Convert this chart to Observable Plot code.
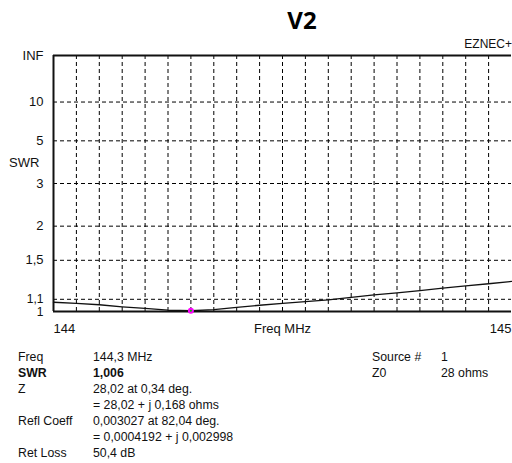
<!DOCTYPE html>
<html><head><meta charset="utf-8">
<script src="https://cdn.jsdelivr.net/npm/d3@7"></script>
<script src="https://cdn.jsdelivr.net/npm/@observablehq/plot@0.6"></script>
<style>
body{margin:0;background:#fff;width:512px;height:463px;overflow:hidden;position:relative;font-family:"Liberation Sans",Arial,sans-serif;color:#111}
.abs{position:absolute;white-space:nowrap}
#chart{position:absolute;left:0;top:0}
#title{top:8px;left:302px;transform:translateX(-50%);font-family:"Open Sans",sans-serif;font-weight:700;font-size:24px;line-height:24px;color:#000}
#brand{top:38px;right:0;font-size:12px;line-height:12px}
#ylab{top:156px;left:9px;font-size:13px;line-height:13px}
.row{font-size:12.3px;line-height:16px;height:16px}
</style>
</head><body>
<div id="chart"></div>
<div class="abs" id="title"></div>
<div class="abs" id="brand"></div>
<div class="abs" id="ylab"></div>
<div id="readout"></div>
<script>
// ---- data ----
const titleText = "V2";
const brandText = "EZNEC+";
const yAxisLabel = "SWR";
const freqs = [144, 144.05, 144.10, 144.15, 144.20, 144.25, 144.30, 144.35, 144.40, 144.45, 144.50, 144.55, 144.60, 144.65, 144.70, 144.75, 144.80, 144.85, 144.90, 144.95, 145.00];
const swrValues = [1.075, 1.065, 1.054, 1.037, 1.024, 1.010, 1.006, 1.015, 1.033, 1.050, 1.066, 1.081, 1.096, 1.117, 1.138, 1.157, 1.178, 1.200, 1.222, 1.243, 1.266];
const markerFreq = 144.3;
const markerSwr = 1.006;
const yTicks = [1.5, 2, 3, 5, 10, Infinity];
const yTickLabels = ["1,5", "2", "3", "5", "10", "INF"];
const yTicksLow = [1.1], yTicksLowLabels = ["1,1"];
const yTicksBase = [1], yTicksBaseLabels = ["1"];
const yGrid = [1.1, 1.5, 2, 3, 5, 10];
const xGrid = [144.05, 144.10, 144.15, 144.20, 144.25, 144.30, 144.35, 144.40, 144.45, 144.50, 144.55, 144.60, 144.65, 144.70, 144.75, 144.80, 144.85, 144.90, 144.95];
const xTickStart = [144], xTickStartLabel = ["144"];
const xTickEnd = [145], xTickEndLabel = ["145"];
const xAxisLabel = "Freq MHz";
const readoutLeftLabels = ["Freq", "SWR", "Z", "", "Refl Coeff", "", "Ret Loss"];
const readoutLeftValues = ["144,3 MHz", "1,006", "28,02 at 0,34 deg.", "= 28,02 + j 0,168 ohms", "0,003027 at 82,04 deg.", "= 0,0004192 + j 0,002998", "50,4 dB"];
const readoutRightLabels = ["Source #", "Z0"];
const readoutRightValues = ["1", "28 ohms"];

// ---- chart ----
const data = freqs.map((f, i) => ({f, s: swrValues[i]}));
const rho = s => s === Infinity ? 1 : (s - 1) / (s + 1);
const blk = "#000";
const chart = Plot.plot({
  width: 512, height: 340,
  marginLeft: 53, marginRight: 1, marginTop: 55, marginBottom: 29,
  style: {fontFamily: "Liberation Sans, Arial, sans-serif", fontSize: "13px", color: "#111", background: "transparent"},
  x: {domain: [144, 145], label: null},
  y: {domain: [0, 1], transform: rho, label: null},
  marks: [
    Plot.gridX(xGrid, {stroke: blk, strokeOpacity: 1, strokeWidth: 1, strokeDasharray: "4,3"}),
    Plot.gridY(yGrid, {stroke: blk, strokeOpacity: 1, strokeWidth: 1, strokeDasharray: "4,3"}),
    Plot.ruleY([1, Infinity], {stroke: "#111", strokeWidth: 2}),
    Plot.ruleX([144], {stroke: "#111", strokeWidth: 2}),
    Plot.line(data, {x: "f", y: "s", stroke: "#111", strokeWidth: 1.3}),
    Plot.dot([{f: markerFreq, s: markerSwr}], {x: "f", y: "s", r: 3, fill: "#ff00ff", stroke: "none"}),
    Plot.dot([{f: markerFreq, s: markerSwr}], {x: "f", y: "s", r: 1.1, fill: "#00c000", stroke: "none"}),
    Plot.axisY(yTicks, {tickSize: 0, tickPadding: 10, tickFormat: d => yTickLabels[yTicks.indexOf(d)], label: null}),
    Plot.axisY(yTicksLow, {tickSize: 0, tickPadding: 10, fontSize: 12, tickFormat: (d, i) => yTicksLowLabels[i], label: null}),
    Plot.axisY(yTicksBase, {tickSize: 0, tickPadding: 10, fontSize: 12, dy: 1, tickFormat: (d, i) => yTicksBaseLabels[i], label: null}),
    Plot.axisX(xTickStart, {tickSize: 0, tickPadding: 12, textAnchor: "start", tickFormat: (d, i) => xTickStartLabel[i], label: null}),
    Plot.axisX(xTickEnd, {tickSize: 0, tickPadding: 12, textAnchor: "end", tickFormat: (d, i) => xTickEndLabel[i], label: null}),
    Plot.axisX([(144 + 145) / 2], {tickSize: 0, tickPadding: 12, tickFormat: () => xAxisLabel, label: null})
  ]
});
document.getElementById("chart").append(chart);
document.getElementById("title").textContent = titleText;
document.getElementById("brand").textContent = brandText;
document.getElementById("ylab").textContent = yAxisLabel;

const ro = document.getElementById("readout");
function addText(txt, x, y, bold) {
  const d = document.createElement("div");
  d.className = "abs row";
  d.style.left = x + "px"; d.style.top = y + "px";
  if (bold) d.style.fontWeight = "700";
  d.textContent = txt;
  ro.append(d);
}
readoutLeftLabels.forEach((t, i) => { addText(t, 18, 349 + 16 * i, i === 1); addText(readoutLeftValues[i], 93, 349 + 16 * i, i === 1); });
readoutRightLabels.forEach((t, i) => { addText(t, 372, 349 + 16 * i, false); addText(readoutRightValues[i], 441, 349 + 16 * i, false); });
</script>
</body></html>
